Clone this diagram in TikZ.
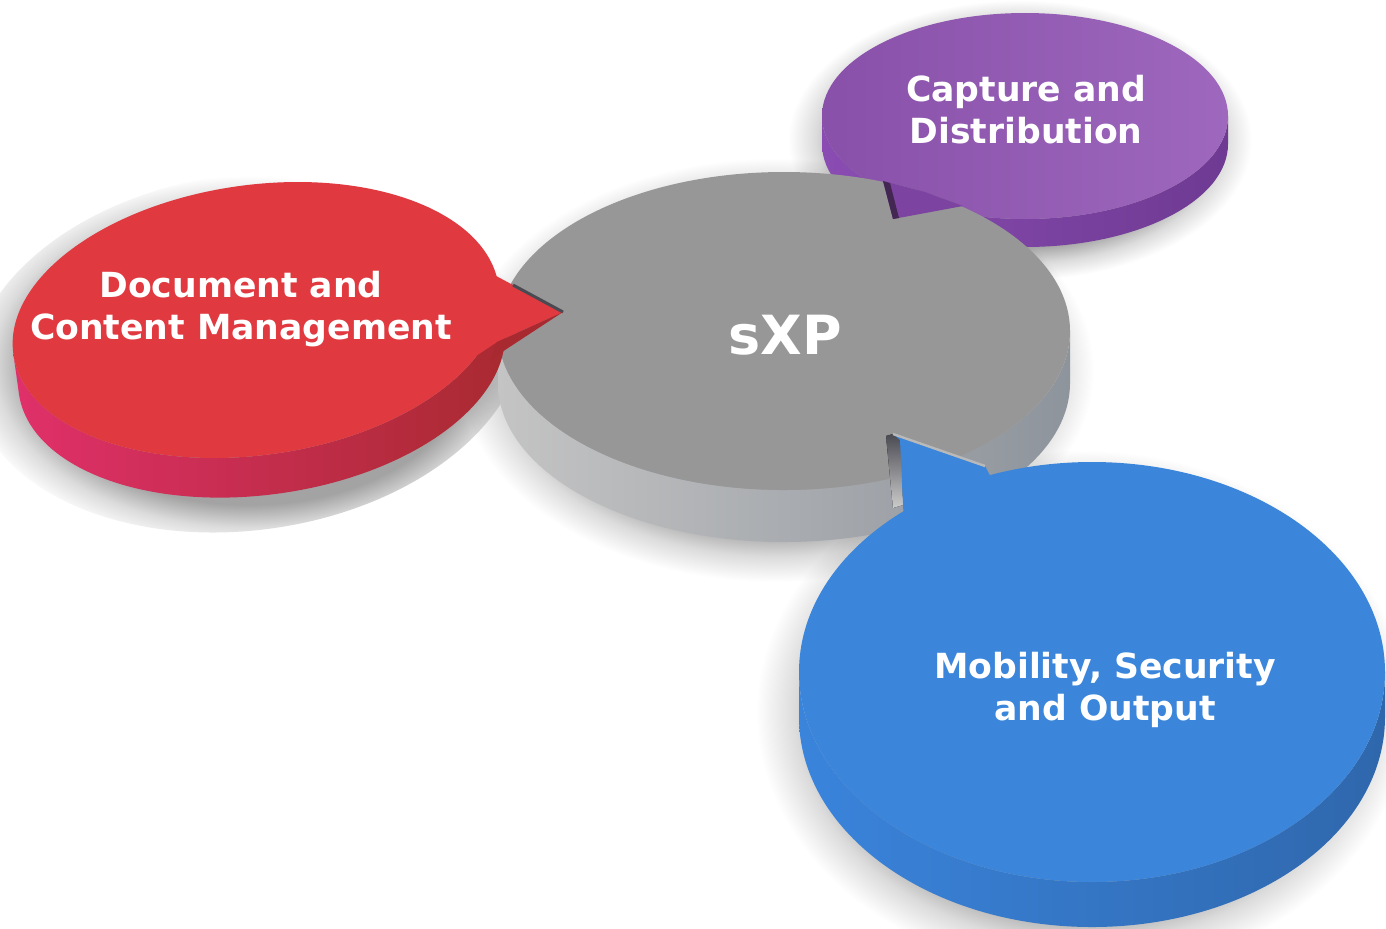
\documentclass[tikz,border=0pt]{standalone}
\usepackage{fontspec}
\setmainfont{DejaVu Sans}
\definecolor{redtop}{HTML}{E0393F}
\definecolor{redsideL}{HTML}{E0306A}
\definecolor{redsideM}{HTML}{E03A3C}
\definecolor{redsideR}{HTML}{A82A30}
\definecolor{greytop}{HTML}{979797}
\definecolor{greysideL}{HTML}{C4C4C4}
\definecolor{greysideR}{HTML}{8E949C}
\definecolor{purptop}{HTML}{9457B7}
\definecolor{purpsideL}{HTML}{8A4CB2}
\definecolor{purpsideR}{HTML}{6E3A92}
\definecolor{bluetop}{HTML}{3B86DA}
\definecolor{bluesideL}{HTML}{3A84DC}
\definecolor{bluesideR}{HTML}{2F67AC}
\definecolor{notch}{HTML}{4A4A52}
\pgfdeclareradialshading{shadowshade}{\pgfpointorigin}{color(0bp)=(black!36); color(19bp)=(black!36); color(22bp)=(black!14); color(25bp)=(white); color(50bp)=(white)}
\tikzset{
  lbl/.style={text=white, font=\bfseries\fontsize{17.3}{21}\selectfont, align=center, inner sep=0pt},
  softshadow/.style={shading=shadowshade, blend mode=multiply},
}
\begin{document}
\begin{tikzpicture}[x=0.5pt,y=-0.5pt]
\useasboundingbox (0,0) rectangle (1386,928);
\clip (0,0) rectangle (1386,928);
\fill[white] (0,0) rectangle (1386,928);

% ---------- soft shadows ----------
\path[softshadow] (1020,140) ellipse[x radius=232,y radius=140];
\path[softshadow] (776,370) ellipse[x radius=318,y radius=212];
\path[softshadow, rotate around={8:(248,352)}] (248,352) ellipse[x radius=278,y radius=178];
\path[softshadow] (1082,712) ellipse[x radius=326,y radius=262];

% ---------- purple disc (behind grey) ----------
\path[left color=purpsideL, right color=purpsideR]
  (1228,116) -- ++(0,28) arc[start angle=0,end angle=180,x radius=203,y radius=103]
  -- ++(0,-28) arc[start angle=180,end angle=0,x radius=203,y radius=103] -- cycle;
\path[left color=purptop!92!black, right color=purptop!90!white] (1025,116) ellipse[x radius=203,y radius=103];

% ---------- grey disc ----------
\path[left color=greysideL, right color=greysideR]
  (1070,331) -- ++(0,52) arc[start angle=0,end angle=180,x radius=286,y radius=159]
  -- ++(0,-52) arc[start angle=180,end angle=0,x radius=286,y radius=159] -- cycle;
\fill[greytop] (784,331) ellipse[x radius=286,y radius=159];

% purple pointer notched into the grey disc
\coordinate (ptip) at (893,219);
\fill[purpsideL!90!black] (883,181) -- (ptip) -- (963,206) -- (925,192) -- cycle;
\fill[purptop!45!black] (883,181) -- (ptip) -- (899,218) -- (890,183) -- cycle;

% ---------- red disc ----------
\begin{scope}[rotate around={8:(256,320)}]
\path[left color=redsideL, middle color=redsideM, right color=redsideR]
  (501,320) -- ++(0,40) arc[start angle=0,end angle=180,x radius=245,y radius=135]
  -- ++(0,-40) arc[start angle=180,end angle=0,x radius=245,y radius=135] -- cycle;
\fill[redtop] (256,320) ellipse[x radius=245,y radius=135];
\end{scope}
\coordinate (rtip) at (563,312);
\fill[redtop] (470,262) -- (513,285) -- (rtip) -- (497,342) -- (470,360) -- cycle;
\draw[notch, line width=1.5pt] (513,285) -- (rtip);
\fill[redsideR] (497,342) -- (rtip) -- (505,350) -- (490,362) -- cycle;

% ---------- blue disc ----------
\path[left color=bluesideL, right color=bluesideR]
  (1385,672) -- ++(0,45) arc[start angle=0,end angle=180,x radius=293,y radius=210]
  -- ++(0,-45) arc[start angle=180,end angle=0,x radius=293,y radius=210] -- cycle;
\fill[bluetop] (1092,672) ellipse[x radius=293,y radius=210];
\coordinate (btip) at (893,434);
\fill[top color=notch, bottom color=gray!40] (886,436) -- (btip) -- (901,440) -- (903,505) -- (893,508) -- cycle;
\fill[bluetop] (btip) -- (900,440) -- (904,525) -- (995,485) -- (985,466) -- cycle;
\draw[gray!55, line width=1.2pt] (btip) -- (985,466);

% ---------- labels ----------
\node[lbl] (doc) at (241,309) {Document and\\Content Management};
\node[lbl] (cap) at (1026,110) {Capture and\\Distribution};
\node[lbl, font=\bfseries\fontsize{27}{30}\selectfont] (sxp) at (785,335) {sXP};
\node[lbl] (mob) at (1105,690) {Mobility, Security\\and Output};
\end{tikzpicture}
\end{document}
